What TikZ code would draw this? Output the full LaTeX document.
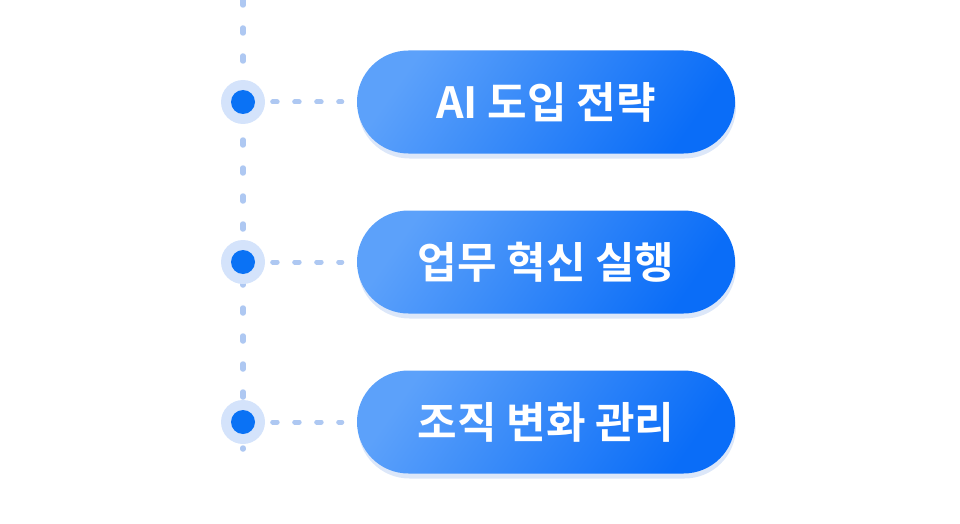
\documentclass[tikz,border=0pt]{standalone}
\usepackage{fontspec}
\newfontfamily\krfont{Noto Sans CJK KR}[BoldFont={Noto Sans CJK KR Bold}]
\usetikzlibrary{shadows}
\definecolor{dashblue}{HTML}{AEC8F2}
\definecolor{haloblue}{HTML}{D4E3FB}
\definecolor{dotblue}{HTML}{0A72F5}
\definecolor{pilllight}{HTML}{5CA1FA}
\definecolor{pilldark}{HTML}{0A6DF8}
\definecolor{shadowblue}{HTML}{DCE7F9}

\begin{document}
\begin{tikzpicture}[x=1pt,y=-1pt,
    pill/.style={rounded corners=51.5pt, minimum width=378pt, minimum height=103pt, inner sep=0pt,
        left color=pilllight, right color=pilldark, shading angle=55,
        general shadow={fill=shadowblue, shadow yshift=-5pt, shadow xshift=1pt},
        text=white, font=\krfont\bfseries\fontsize{43}{50}\selectfont},
    halo/.style={circle, fill=haloblue, minimum size=44pt, inner sep=0pt},
    dot/.style={circle, fill=dotblue, minimum size=24pt, inner sep=0pt},
    vline/.style={dashblue, line width=5.5pt, line cap=round, dash pattern=on 5pt off 23pt},
    hline/.style={dashblue, line width=5pt, line cap=round, dash pattern=on 4.5pt off 17.5pt}]

    \useasboundingbox (0,0) rectangle (960,524);
    \pgfmathsetmacro\gap{160}
    \coordinate (top) at (243,0);
    \coordinate (bottom) at (243,449);
    \draw[vline] (top) -- (bottom);

    \foreach \t [count=\i] in {AI 도입 전략, 업무 혁신 실행, 조직 변화 관리} {
        \pgfmathsetmacro\yy{102+(\i-1)*\gap}
        \node[halo] (halo\i) at (243,\yy) {};
        \node[dot] (dot\i) at (halo\i) {};
        \node[pill] (item\i) at (546,\yy) {\t};
        \draw[hline] ([xshift=7.5pt]halo\i.east) -- ([xshift=-15pt]item\i.west);
    }

\end{tikzpicture}
\end{document}
